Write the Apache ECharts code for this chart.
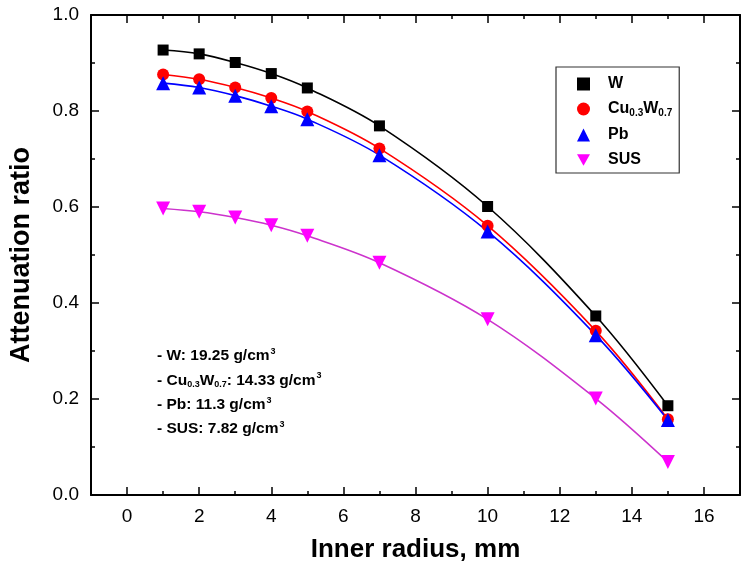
<!DOCTYPE html>
<html>
<head>
<meta charset="utf-8">
<script src="https://cdn.jsdelivr.net/npm/echarts@6/dist/echarts.min.js"></script>
<style>
html,body{margin:0;padding:0;background:#fff;}
#chart{width:749px;height:573px;}
</style>
</head>
<body>
<div id="chart"></div>
<script>
// ---- data ----
var radius = [1, 2, 3, 4, 5, 7, 10, 13, 15];
var wValues   = [0.927, 0.919, 0.901, 0.878, 0.848, 0.769, 0.601, 0.373, 0.186];
var cuwValues = [0.876, 0.866, 0.849, 0.827, 0.799, 0.722, 0.561, 0.342, 0.158];
var pbValues  = [0.858, 0.849, 0.832, 0.810, 0.783, 0.708, 0.549, 0.333, 0.156];
var susValues = [0.597, 0.590, 0.578, 0.562, 0.540, 0.484, 0.366, 0.201, 0.069];
var seriesNames = ['W', 'Cu0.3W0.7', 'Pb', 'SUS'];
var xMajorTicks = [0, 2, 4, 6, 8, 10, 12, 14, 16];
var xMinorTicks = [1, 3, 5, 7, 9, 11, 13, 15];
var densityNotes = [
  '{t|- W: 19.25 g/cm}{sup|3}',
  '{t|- Cu}{sub|0.3}{t|W}{sub|0.7}{t|: 14.33 g/cm}{sup|3}',
  '{t|- Pb: 11.3 g/cm}{sup|3}',
  '{t|- SUS: 7.82 g/cm}{sup|3}'
];

function pairs(vals) { return radius.map(function (x, i) { return [x, vals[i]]; }); }

var FONT = 'Liberation Sans, Arial, sans-serif';
var invTri = 'path://M0,0 L10,0 L5,9 Z';

var chart = echarts.init(document.getElementById('chart'), null, {renderer: 'canvas'});

function xAxisDef(pos, ticks, len, showLine, showLabel) {
  return {
    type: 'value', position: pos, min: -1, max: 17,
    axisLine: {show: showLine, onZero: false, lineStyle: {color: '#000', width: 2}},
    axisTick: {show: true, inside: true, length: len, customValues: ticks, lineStyle: {color: '#000', width: 1.5}},
    axisLabel: {show: showLabel, customValues: ticks, fontFamily: FONT, fontSize: 19, color: '#000', margin: 12},
    splitLine: {show: false}
  };
}
var xAxes = [
  xAxisDef('bottom', xMajorTicks, 8, true, true),
  xAxisDef('bottom', xMinorTicks, 4, false, false),
  xAxisDef('top', xMajorTicks, 8, true, false),
  xAxisDef('top', xMinorTicks, 4, false, false)
];
xAxes[0].name = 'Inner radius, mm';
xAxes[0].nameLocation = 'middle';
xAxes[0].nameGap = 42;
xAxes[0].nameTextStyle = {fontFamily: FONT, fontSize: 26, fontWeight: 'bold', color: '#000'};

function yAxisDef(pos, showLabel) {
  return {
    type: 'value', position: pos, min: 0, max: 1, interval: 0.2,
    axisLine: {show: true, onZero: false, lineStyle: {color: '#000', width: 2}},
    axisTick: {show: true, inside: true, length: 8, lineStyle: {color: '#000', width: 1.5}},
    minorTick: {show: true, splitNumber: 2, length: 4, lineStyle: {color: '#000', width: 1.5}},
    axisLabel: {show: showLabel, fontFamily: FONT, fontSize: 19, color: '#000', margin: 12,
      formatter: function (v) { return v.toFixed(1); }},
    splitLine: {show: false},
    minorSplitLine: {show: false}
  };
}
var yAxes = [yAxisDef('left', true), yAxisDef('right', false)];
yAxes[0].name = 'Attenuation ratio';
yAxes[0].nameLocation = 'middle';
yAxes[0].nameGap = 56;
yAxes[0].nameTextStyle = {fontFamily: FONT, fontSize: 27, fontWeight: 'bold', color: '#000'};

function mkSeries(name, vals, color, lineColor, symbol, size) {
  return {
    name: name, type: 'line', data: pairs(vals), xAxisIndex: 0, yAxisIndex: 0,
    smooth: 0.35, symbol: symbol, symbolSize: size, showSymbol: true,
    lineStyle: {color: lineColor, width: 1.6},
    itemStyle: {color: color, borderWidth: 0},
    emphasis: {disabled: true}, animation: false
  };
}

var option = {
  animation: false,
  backgroundColor: '#fff',
  grid: {left: 85.5, right: 9, top: 15, bottom: 78, containLabel: false},
  xAxis: xAxes,
  yAxis: yAxes,
  legend: {
    orient: 'vertical', left: 556, top: 67,
    padding: [9, 7, 5, 21],
    borderColor: '#333', borderWidth: 1.2,
    itemWidth: 13, itemHeight: 13, itemGap: 9,
    selectedMode: false,
    textStyle: {fontFamily: FONT, fontSize: 16, fontWeight: 'bold', color: '#000', padding: [0, 0, 0, 13],
      rich: {
        b: {fontFamily: FONT, fontSize: 16, fontWeight: 'bold', color: '#000', lineHeight: 18},
        s: {fontFamily: FONT, fontSize: 10, fontWeight: 'bold', color: '#000', verticalAlign: 'bottom', lineHeight: 18, padding: [6, 0, 0, 0]}
      }},
    formatter: function (n) {
      if (n === 'Cu0.3W0.7') return '{b|Cu}{s|0.3}{b|W}{s|0.7}';
      return n;
    },
    data: [
      {name: 'W', icon: 'rect'},
      {name: 'Cu0.3W0.7', icon: 'circle'},
      {name: 'Pb', icon: 'triangle'},
      {name: 'SUS', icon: invTri}
    ]
  },
  graphic: densityNotes.map(function (t, i) {
    return {
      type: 'text', left: 157, top: 347 + i * 24.3, silent: true,
      style: {
        text: t,
        rich: {
          t: {fontFamily: FONT, fontSize: 15.5, fontWeight: 'bold', fill: '#000', lineHeight: 18},
          sup: {fontFamily: FONT, fontSize: 9, fontWeight: 'bold', fill: '#000', verticalAlign: 'top', lineHeight: 18, padding: [0, 0, 6, 1]},
          sub: {fontFamily: FONT, fontSize: 9, fontWeight: 'bold', fill: '#000', verticalAlign: 'bottom', lineHeight: 18, padding: [6, 0, 0, 0]}
        }
      }
    };
  }),
  series: [
    mkSeries(seriesNames[0], wValues, '#000000', '#000000', 'rect', 11),
    mkSeries(seriesNames[1], cuwValues, '#ff0000', '#ff0000', 'circle', 12),
    mkSeries(seriesNames[2], pbValues, '#0000ff', '#0000ff', 'triangle', 14),
    mkSeries(seriesNames[3], susValues, '#ff00ff', '#cc33cc', invTri, 14)
  ]
};
chart.setOption(option);
</script>
</body>
</html>
